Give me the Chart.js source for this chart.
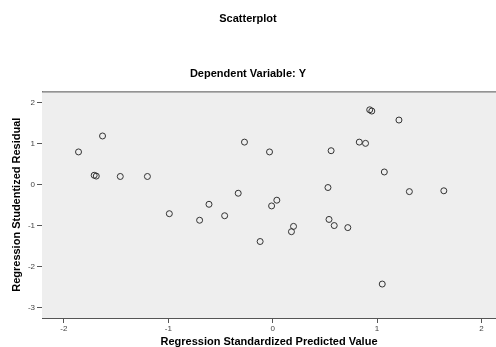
<!DOCTYPE html>
<html>
<head>
<meta charset="utf-8">
<script src="https://cdn.jsdelivr.net/npm/chart.js@4.4.0/dist/chart.umd.min.js"></script>
<style>
  body { margin: 0; background: #fff; }
  #wrap { width: 496px; height: 347px; }
</style>
</head>
<body>
<div id="wrap"><canvas id="scatterPlot"></canvas></div>
<script>
// standardized predicted value (x) and studentized residual (y)
const predicted = [
  -1.86, -1.63, -1.71, -1.69, -1.46, -1.20, -0.27, -0.33, -0.61, -0.99,
  -0.70, -0.46, 0.93, 0.95, 1.21, -0.03, 0.56, 0.83, 0.89, 1.07,
  0.53, 1.31, 1.64, -0.01, 0.04, 0.54, 0.59, 0.72, 0.20, 0.18,
  -0.12, 1.05
];
const residual = [
  0.80, 1.19, 0.23, 0.21, 0.20, 0.20, 1.04, -0.21, -0.48, -0.71,
  -0.87, -0.76, 1.83, 1.80, 1.58, 0.80, 0.83, 1.04, 1.01, 0.31,
  -0.07, -0.17, -0.15, -0.52, -0.38, -0.85, -1.00, -1.05, -1.02, -1.15,
  -1.39, -2.43
];
const xTicks = [-2, -1, 0, 1, 2];
const yTicks = [-3, -2, -1, 0, 1, 2];

const points = predicted.map((x, i) => ({ x: x, y: residual[i] }));

// gray plot background with a frame, like the SPSS output
const plotFrame = {
  id: 'plotFrame',
  beforeDatasetsDraw(chart) {
    const a = chart.chartArea;
    const ctx = chart.ctx;
    ctx.save();
    ctx.fillStyle = '#eeeeee';
    ctx.fillRect(a.left, a.top, a.right - a.left, a.bottom - a.top);
    ctx.strokeStyle = '#555';
    ctx.lineWidth = 1;
    ctx.beginPath();
    ctx.moveTo(a.left, a.top + 0.5);
    ctx.lineTo(a.right, a.top + 0.5);
    ctx.stroke();
    ctx.restore();
  }
};

let ctx = document.getElementById('scatterPlot').getContext('2d');
new Chart(ctx, {
  type: 'scatter',
  data: {
    datasets: [{
      data: points,
      pointStyle: 'circle',
      pointRadius: 3,
      pointBorderWidth: 1,
      pointBorderColor: '#333',
      pointBackgroundColor: 'rgba(0,0,0,0)'
    }]
  },
  options: {
    responsive: true,
    maintainAspectRatio: false,
    animation: false,
    layout: { padding: 0, autoPadding: false },
    plugins: {
      legend: { display: false },
      tooltip: { enabled: false },
      title: {
        display: true,
        text: 'Scatterplot',
        color: '#000',
        font: { family: 'Arial, "Liberation Sans", sans-serif', size: 11, weight: 'bold' },
        padding: { top: 12, bottom: 42 }
      },
      subtitle: {
        display: true,
        text: 'Dependent Variable: Y',
        color: '#000',
        font: { family: 'Arial, "Liberation Sans", sans-serif', size: 11, weight: 'bold' },
        padding: { top: 0, bottom: 11 }
      }
    },
    scales: {
      x: {
        type: 'linear',
        position: 'bottom',
        min: -2.21,
        max: 2.14,
        afterBuildTicks: s => { s.ticks = xTicks.map(v => ({ value: v })); },
        afterFit: s => { s.height = 29; },
        grid: { drawOnChartArea: false, drawTicks: true, tickLength: 5, color: '#555' },
        border: { display: true, color: '#555', width: 1 },
        ticks: { color: '#444', padding: 1, font: { family: 'Arial, "Liberation Sans", sans-serif', size: 8 } },
        title: {
          display: true,
          text: 'Regression Standardized Predicted Value',
          color: '#000',
          font: { family: 'Arial, "Liberation Sans", sans-serif', size: 11, weight: 'bold', lineHeight: 1 },
          padding: { top: 0, bottom: 0 }
        }
      },
      y: {
        type: 'linear',
        position: 'left',
        min: -3.26,
        max: 2.28,
        afterBuildTicks: s => { s.ticks = yTicks.map(v => ({ value: v })); },
        afterFit: s => { s.width = 42; },
        grid: { drawOnChartArea: false, drawTicks: true, tickLength: 5, color: '#555' },
        border: { display: true, color: '#555', width: 1 },
        ticks: { color: '#444', padding: 2, font: { family: 'Arial, "Liberation Sans", sans-serif', size: 8 } },
        title: {
          display: true,
          text: 'Regression Studentized Residual',
          color: '#000',
          font: { family: 'Arial, "Liberation Sans", sans-serif', size: 11, weight: 'bold', lineHeight: 1.2 },
          padding: { top: 10, bottom: 0 }
        }
      }
    }
  },
  plugins: [plotFrame]
});
</script>
</body>
</html>
